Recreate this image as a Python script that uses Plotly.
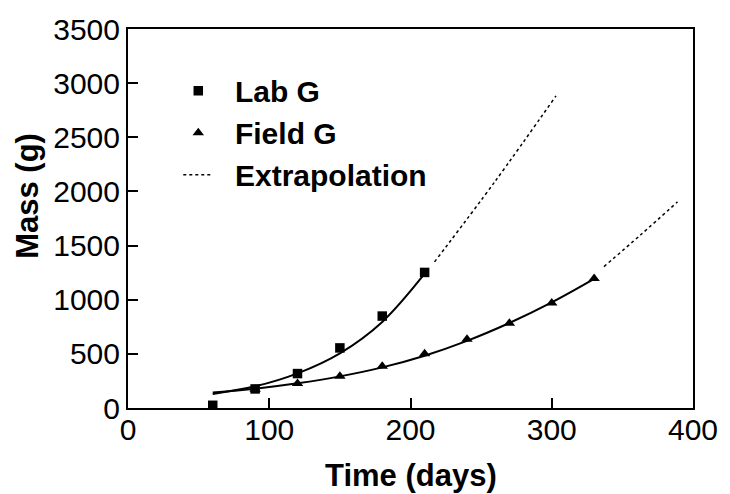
import plotly.graph_objects as go

# Measured growth data
lab_days = [60, 90, 120, 150, 180, 210]
lab_mass = [25, 176, 318, 555, 849, 1252]

field_days = [90, 120, 150, 180, 210, 240, 270, 300, 330]
field_mass = [172, 227, 294, 385, 500, 636, 782, 970, 1197]

# Fitted growth curves
lab_fit_days = [60, 90, 120, 150, 180, 210]
lab_fit_mass = [130, 200, 320, 505, 795, 1240]

field_fit_days = [60, 90, 120, 150, 180, 210, 240, 270, 300, 330]
field_fit_mass = [142, 178, 228, 292, 375, 483, 620, 785, 975, 1192]

# Extrapolated growth beyond the observation period
lab_ext_days = [217, 260, 303]
lab_ext_mass = [1349, 2095, 2882]

field_ext_days = [337, 363, 389]
field_ext_mass = [1306, 1600, 1903]

FONT = "Liberation Sans, Arial, sans-serif"
BLACK = "#000000"
GAP = "\u00a0\u00a0"  # extra room between legend symbol and label

fig = go.Figure()

fig.add_trace(go.Scatter(
    x=lab_fit_days, y=lab_fit_mass, mode="lines", line_shape="spline",
    line=dict(color=BLACK, width=2), showlegend=False, hoverinfo="skip"))
fig.add_trace(go.Scatter(
    x=field_fit_days, y=field_fit_mass, mode="lines", line_shape="spline",
    line=dict(color=BLACK, width=2), showlegend=False, hoverinfo="skip"))

fig.add_trace(go.Scatter(
    x=lab_days, y=lab_mass, mode="markers", name=GAP + "Lab G",
    marker=dict(symbol="square", size=9.5, color=BLACK)))
fig.add_trace(go.Scatter(
    x=field_days, y=field_mass, mode="markers", name=GAP + "Field G",
    marker=dict(symbol="triangle-up", size=10, color=BLACK)))

fig.add_trace(go.Scatter(
    x=lab_ext_days, y=lab_ext_mass, mode="lines", name=GAP + "Extrapolation",
    line_shape="spline", legendgroup="ext",
    line=dict(color=BLACK, width=1.5, dash="dot")))
fig.add_trace(go.Scatter(
    x=field_ext_days, y=field_ext_mass, mode="lines", name=GAP + "Extrapolation",
    line_shape="spline", legendgroup="ext", showlegend=False,
    line=dict(color=BLACK, width=1.5, dash="dot")))

axis_common = dict(
    showline=True, linecolor=BLACK, linewidth=2, mirror=True,
    ticks="inside", ticklen=10, tickwidth=2, tickcolor=BLACK,
    showgrid=False, zeroline=False,
    tickfont=dict(family=FONT, size=30, color=BLACK),
)

fig.update_layout(
    width=730, height=494,
    margin=dict(l=128, r=26, t=22, b=86),
    paper_bgcolor="white", plot_bgcolor="white",
    font=dict(family=FONT, color=BLACK),
    xaxis=dict(range=[0, 400], dtick=100, tick0=0, ticklabelstandoff=-6,
               **axis_common),
    yaxis=dict(range=[0, 3500], dtick=500, tick0=0, **axis_common),
    legend=dict(
        x=0.089, y=0.906, xanchor="left", yanchor="top",
        bgcolor="rgba(0,0,0,0)", borderwidth=0,
        font=dict(family=FONT, size=30, color=BLACK, weight="bold"),
        itemwidth=30, tracegroupgap=0,
    ),
    showlegend=True,
    annotations=[
        dict(text="<b>Time (days)</b>", xref="paper", yref="paper",
             x=0.5, y=-0.127, xanchor="center", yanchor="top", showarrow=False,
             font=dict(family=FONT, size=31, color=BLACK)),
        dict(text="<b>Mass (g)</b>", xref="paper", yref="paper",
             x=-0.178, y=0.561, xanchor="center", yanchor="middle", showarrow=False,
             textangle=-90, font=dict(family=FONT, size=31, color=BLACK)),
    ],
)

fig.write_html("out.html")
